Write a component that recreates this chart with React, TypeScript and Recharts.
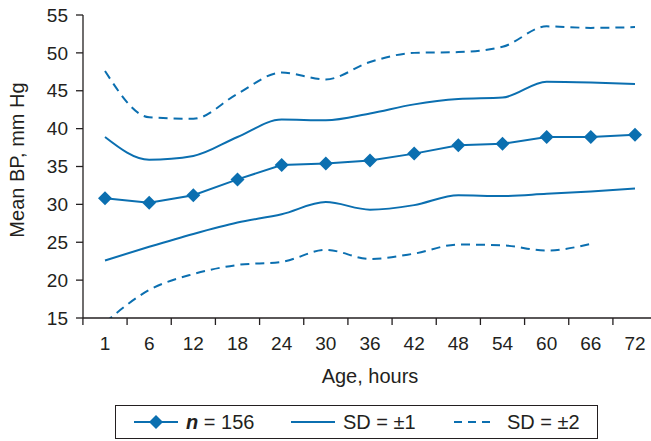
import { LineChart, Line, XAxis, YAxis, Label } from "recharts";

const ages = ["1", "6", "12", "18", "24", "30", "36", "42", "48", "54", "60", "66", "72"];
const meanBP = [30.8, 30.2, 31.2, 33.3, 35.2, 35.4, 35.8, 36.7, 37.8, 38.0, 38.9, 38.9, 39.2];
const plus1SD = [38.9, 35.9, 36.4, 38.9, 41.2, 41.1, 42.0, 43.2, 43.9, 44.1, 46.2, 46.1, 45.9];
const minus1SD = [22.6, 24.4, 26.1, 27.6, 28.7, 30.3, 29.3, 29.9, 31.2, 31.1, 31.4, 31.7, 32.1];
const plus2SD = [47.6, 41.5, 41.3, 44.6, 47.4, 46.5, 48.8, 50.0, 50.1, 50.8, 53.5, 53.3, 53.4];
const minus2SD = [14.4, 18.7, 20.8, 22.0, 22.4, 24.0, 22.8, 23.5, 24.7, 24.6, 23.9, 24.8, null];
const yTicks = [15, 20, 25, 30, 35, 40, 45, 50, 55];

const data = ages.map((age, i) => ({
    age,
    mean: meanBP[i],
    p1: plus1SD[i],
    m1: minus1SD[i],
    p2: plus2SD[i],
    m2: minus2SD[i],
}));

const blue = "#0b6fb0";
const ink = "#231f20";
const font = "'Liberation Sans', Arial, sans-serif";
const band = 530 / 12; // distance between category centres

// diamond marker for the mean line
const Diamond = (props: any) => {
    const { cx, cy, index } = props;
    if (cx == null || cy == null) return <g key={index} />;
    const r = 7;
    return (
        <path
            key={index}
            d={`M${cx},${cy - r} L${cx + r},${cy} L${cx},${cy + r} L${cx - r},${cy} Z`}
            fill={blue}
        />
    );
};

// tick marks sit between categories, labels in the middle
const AgeTick = (props: any) => {
    const { x, y, payload } = props;
    const lx = x - band / 2;
    return (
        <g>
            <line x1={lx} x2={lx} y1={y} y2={y + 7} stroke={ink} strokeWidth={1.3} />
            <text x={x} y={y + 32} textAnchor="middle" fill={ink} fontSize={19} fontFamily={font}>
                {payload.value}
            </text>
        </g>
    );
};

const legendItems = [
    { lineX: 18, textX: 70, dash: undefined, marker: true },
    { lineX: 175, textX: 227, dash: undefined, marker: false },
    { lineX: 338, textX: 391, dash: "8 6", marker: false },
];

export default function App() {
    return (
        <div style={{ position: "absolute", left: 0, top: 0, width: 651, height: 441, overflow: "hidden", background: "#fff", fontFamily: font }}>
            <LineChart width={657} height={441} data={data} margin={{ top: 15, right: 0, bottom: 53, left: 0 }}>
                <XAxis
                    dataKey="age"
                    padding={{ left: 22, right: 22 }}
                    tick={<AgeTick />}
                    tickLine={false}
                    tickSize={0}
                    tickMargin={0}
                    interval={0}
                    height={70}
                    axisLine={{ stroke: ink, strokeWidth: 1.3 }}
                >
                    <Label value="Age, hours" position="insideBottom" offset={5} fill={ink} fontSize={20} fontFamily={font} />
                </XAxis>
                <YAxis
                    width={83}
                    domain={[15, 55]}
                    ticks={yTicks}
                    allowDataOverflow
                    tickSize={7}
                    tickMargin={8}
                    tick={{ fill: ink, fontSize: 19, fontFamily: font }}
                    tickLine={{ stroke: ink, strokeWidth: 1.3 }}
                    axisLine={{ stroke: ink, strokeWidth: 1.3 }}
                >
                    <Label
                        content={() => (
                            <text x={24} y={160} transform="rotate(-90 24 160)" textAnchor="middle" fill={ink} fontSize={20} fontFamily={font}>
                                Mean BP, mm Hg
                            </text>
                        )}
                    />
                </YAxis>
                <Line type="monotone" dataKey="p2" stroke={blue} strokeWidth={2} strokeDasharray="9 6" dot={false} isAnimationActive={false} />
                <Line type="monotone" dataKey="p1" stroke={blue} strokeWidth={2} dot={false} isAnimationActive={false} />
                <Line type="linear" dataKey="mean" stroke={blue} strokeWidth={2} dot={<Diamond />} isAnimationActive={false} />
                <Line type="monotone" dataKey="m1" stroke={blue} strokeWidth={2} dot={false} isAnimationActive={false} />
                <Line type="monotone" dataKey="m2" stroke={blue} strokeWidth={2} strokeDasharray="9 6" dot={false} isAnimationActive={false} />
            </LineChart>
            <div style={{ position: "absolute", left: 115, top: 405, width: 483, height: 34, border: `1px solid ${ink}`, boxSizing: "border-box" }}>
                <svg width={481} height={32} style={{ display: "block" }}>
                    {legendItems.map((it, i) => (
                        <g key={i}>
                            <line
                                x1={it.lineX}
                                x2={it.lineX + (it.dash ? 38 : 44)}
                                y1={16}
                                y2={16}
                                stroke={blue}
                                strokeWidth={2}
                                strokeDasharray={it.dash}
                            />
                            {it.marker && <Diamond cx={it.lineX + 22} cy={16} index={0} />}
                        </g>
                    ))}
                    <text x={legendItems[0].textX} y={23} fill={ink} fontSize={20} fontFamily={font}>
                        <tspan fontWeight="bold" fontStyle="italic">n</tspan> = 156
                    </text>
                    <text x={legendItems[1].textX} y={23} fill={ink} fontSize={20} fontFamily={font}>
                        SD = ±1
                    </text>
                    <text x={legendItems[2].textX} y={23} fill={ink} fontSize={20} fontFamily={font}>
                        SD = ±2
                    </text>
                </svg>
            </div>
        </div>
    );
}
